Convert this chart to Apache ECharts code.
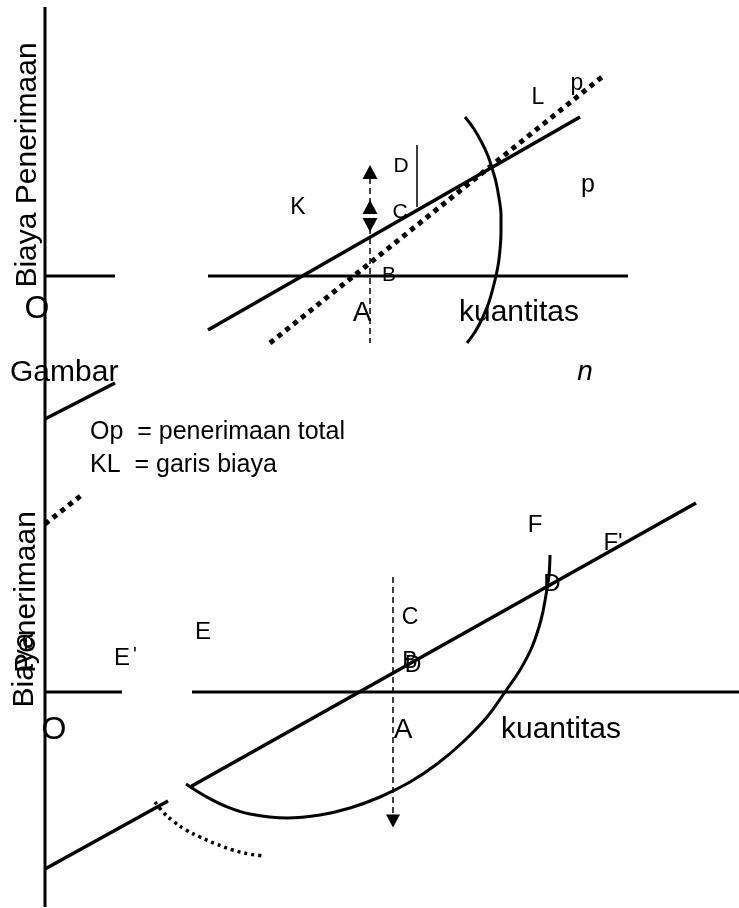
<!DOCTYPE html>
<html>
<head>
<meta charset="utf-8">
<script src="https://cdn.jsdelivr.net/npm/echarts@6/dist/echarts.min.js"></script>
<style>
html,body{margin:0;padding:0;background:#fff;}
#chart{width:739px;height:908px;}
</style>
</head>
<body>
<div id="chart"></div>
<script>
// ---- diagram data (in diagram units: x right, y down) ----
const verticalAxis = [[45, 7], [45, 907]];

// top panel
const topAxisLeft = [[45, 276], [115, 276]];
const topAxisRight = [[208, 276], [628, 276]];
const topCostLineLeft = [[45, 419], [115, 383]];
const topCostLineRight = [[208, 330], [580, 117]];
const topRevenueLeft = [[45, 524], [83, 494]];
const topRevenueRight = [[270, 343], [602, 77]];
const topArc = [[465, 117], [474, 129], [482, 143], [488, 156], [492, 168], [496, 182], [499, 198], [501, 215], [501, 232], [500, 250], [498, 266], [494, 284], [489, 302], [482, 319], [475, 332], [467, 343]];
const topDashed = [[370, 168], [370, 343]];
const topThin = [[417, 145], [417, 207]];
const topArrowsUp = [[370, 172], [370, 207]];
const topArrowsDown = [[370, 225]];

// bottom panel
const botAxisLeft = [[45, 692], [122, 692]];
const botAxisRight = [[192, 692], [739, 692]];
const botLineLeft = [[45, 869], [168, 801]];
const botLineRight = [[190, 787], [696, 503]];
const botArc = [[186, 784], [205, 796], [225, 806], [250, 814], [287, 818], [320, 815], [350, 808], [380, 797], [410, 782], [437, 764], [463, 742], [487, 717], [505, 692], [520, 670], [532, 647], [541, 620], [546, 595], [549, 575], [550, 555]];
const botDotted = [[155, 802], [163, 812], [173, 821], [186, 830], [200, 837], [216, 844], [233, 850], [249, 854], [265, 856]];
const botDashed = [[393, 577], [393, 818]];
const botArrowsDown = [[393, 821]];

// labels [x, y, text, fontSize]
const centerLabels = [
  [298, 208, 'K', 23], [401, 166, 'D', 21], [400, 212, 'C', 21], [389, 275, 'B', 21],
  [362, 313, 'A', 28], [538, 98, 'L', 23], [577, 84, 'p', 23], [588, 185, 'p', 25],
  [519, 313, 'kuantitas', 30], [37, 309, 'O', 32],
  [203, 632, 'E', 24], [122, 658, 'E', 24], [135, 655, "'", 20],
  [410, 618, 'C', 23], [410, 662, 'B', 23], [413, 666, 'D', 23],
  [403, 730, 'A', 28], [54, 730, 'O', 32], [561, 730, 'kuantitas', 30],
  [535, 525, 'F', 24], [613, 543, "F'", 24], [552, 584, 'D', 24]
];
const rotatedLabels = [[28, 165, 'Biaya Penerimaan', 30], [27, 592, 'Penerimaan', 30], [25, 670, 'Biaya', 30]];
const leftLabels = [[10, 373, 'Gambar', 30], [90, 432, 'Op  = penerimaan total', 25], [90, 465, 'KL  = garis biaya', 25]];
const italicLabels = [[585, 372, 'n', 28]];

const FONT = '"Liberation Sans", Arial, sans-serif';

function seg(data, width, type, smooth) {
  return {
    type: 'line', data: data, symbol: 'none', smooth: smooth || false, clip: false,
    lineStyle: { color: '#000', width: width, type: type || 'solid', cap: 'butt' },
    silent: true, z: 2
  };
}
function arrows(data, rot, size) {
  return {
    type: 'scatter', data: data, symbol: 'triangle', symbolRotate: rot, symbolSize: size,
    itemStyle: { color: '#000', opacity: 1 }, silent: true, z: 3
  };
}
function labels(data, opts) {
  const base = Object.assign({ show: true, color: '#000', opacity: 1, textBorderWidth: 0, fontFamily: FONT }, opts);
  return {
    type: 'scatter',
    data: data.map(d => ({ value: [d[0], d[1]], name: d[2],
      label: Object.assign({}, base, { fontSize: d[3], formatter: d[2] }) })),
    symbolSize: 0.01, itemStyle: { color: '#000', opacity: 1 }, silent: true, z: 5,
    label: base
  };
}

const chart = echarts.init(document.getElementById('chart'), null, { renderer: 'canvas' });
chart.setOption({
  animation: false,
  backgroundColor: '#fff',
  grid: { left: 0, right: 0, top: 0, bottom: 0 },
  xAxis: { type: 'value', min: 0, max: 739, show: false },
  yAxis: { type: 'value', min: 0, max: 908, inverse: true, show: false },
  series: [
    seg(verticalAxis, 3),
    seg(topAxisLeft, 3), seg(topAxisRight, 3),
    seg(topCostLineLeft, 3.5), seg(topCostLineRight, 3.5),
    seg(topRevenueLeft, 5, [5, 5]), seg(topRevenueRight, 5, [5, 5]),
    seg(topArc, 3, 'solid', 0.4),
    seg(topDashed, 1.5, [6, 4]),
    seg(topThin, 1.5),
    arrows(topArrowsUp, 0, [15, 14]),
    arrows(topArrowsDown, 180, [15, 14]),
    seg(botAxisLeft, 3), seg(botAxisRight, 3),
    seg(botLineLeft, 3.5), seg(botLineRight, 3.5),
    seg(botArc, 3, 'solid', 0.4),
    seg(botDotted, 3.5, [3, 4], 0.4),
    seg(botDashed, 1.5, [6, 4]),
    arrows(botArrowsDown, 180, [14, 13]),
    labels(centerLabels, { position: 'inside', align: 'center', verticalAlign: 'middle' }),
    labels(rotatedLabels, { position: 'inside', rotate: 90, align: 'center', verticalAlign: 'middle' }),
    labels(leftLabels, { position: 'right', distance: 0, align: 'left', verticalAlign: 'middle' }),
    labels(italicLabels, { position: 'inside', fontStyle: 'italic', align: 'center', verticalAlign: 'middle' })
  ]
});
</script>
</body>
</html>
